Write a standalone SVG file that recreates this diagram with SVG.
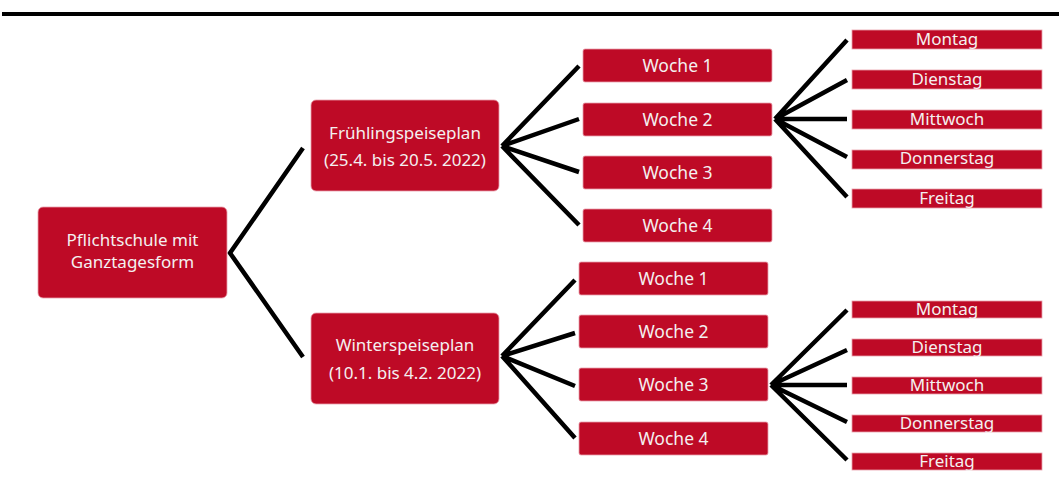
<svg xmlns="http://www.w3.org/2000/svg" width="1059" height="500" viewBox="0 0 1059 500">
<style>
.box{fill:#BE0A26;stroke:#E8A0AC;stroke-width:0.8}
.t{fill:#F4F0F0;font-family:"Noto Sans","Open Sans",sans-serif;font-size:17px;text-anchor:middle}
.w{font-size:17.5px}
.c{stroke:#000;stroke-width:4.5;fill:none;stroke-linecap:butt}
</style>
<rect x="2" y="12" width="1057" height="4" fill="#000"/>
<g id="connectors">
<path class="c" d="M303,148 L230,253 L303,357"/>
<path class="c" d="M579,66 L502,146 M579,119 L502,146 M579,172 L502,146 M579,225 L502,146"/>
<path class="c" d="M575,280 L502,356 M575,333 L502,356 M575,386 L502,356 M575,438 L502,356"/>
<path class="c" d="M847,40 L775,119 M847,80 L775,119 M847,119 L775,119 M847,157 L775,119 M847,197 L775,119"/>
<path class="c" d="M847,310 L771,385 M847,350 L771,385 M847,385 L771,385 M847,422 L771,385 M847,460 L771,385"/>
</g>
<g id="root"><rect class="box" x="38" y="207" width="189" height="91" rx="5"/><text class="t" x="132.5" y="246">Pflichtschule mit</text><text class="t" x="132.5" y="268">Ganztagesform</text></g>
<g id="fruehling"><rect class="box" x="311" y="100" width="188" height="91" rx="5"/><text class="t" x="405" y="139">Frühlingspeiseplan</text><text class="t" x="405" y="166">(25.4. bis 20.5. 2022)</text></g>
<g id="winter"><rect class="box" x="311" y="313" width="188" height="91" rx="5"/><text class="t" x="405" y="351">Winterspeiseplan</text><text class="t" x="405" y="379">(10.1. bis 4.2. 2022)</text></g>
<g id="fw1"><rect class="box" x="583" y="49" width="189" height="33" rx="2"/><text class="t w" x="677.5" y="72">Woche 1</text></g>
<g id="fw2"><rect class="box" x="583" y="103" width="189" height="33" rx="2"/><text class="t w" x="677.5" y="126">Woche 2</text></g>
<g id="fw3"><rect class="box" x="583" y="156" width="189" height="33" rx="2"/><text class="t w" x="677.5" y="179">Woche 3</text></g>
<g id="fw4"><rect class="box" x="583" y="209" width="189" height="33" rx="2"/><text class="t w" x="677.5" y="232">Woche 4</text></g>
<g id="ww1"><rect class="box" x="579" y="262" width="189" height="33" rx="2"/><text class="t w" x="673.5" y="285">Woche 1</text></g>
<g id="ww2"><rect class="box" x="579" y="315" width="189" height="33" rx="2"/><text class="t w" x="673.5" y="338">Woche 2</text></g>
<g id="ww3"><rect class="box" x="579" y="368" width="189" height="33" rx="2"/><text class="t w" x="673.5" y="391">Woche 3</text></g>
<g id="ww4"><rect class="box" x="579" y="422" width="189" height="33" rx="2"/><text class="t w" x="673.5" y="445">Woche 4</text></g>
<g id="f-mo"><rect class="box" x="852" y="30" width="190" height="19"/><text class="t" x="947" y="45">Montag</text></g>
<g id="f-di"><rect class="box" x="852" y="70" width="190" height="19"/><text class="t" x="947" y="85">Dienstag</text></g>
<g id="f-mi"><rect class="box" x="852" y="110" width="190" height="19"/><text class="t" x="947" y="125">Mittwoch</text></g>
<g id="f-do"><rect class="box" x="852" y="150" width="190" height="19"/><text class="t" x="947" y="164">Donnerstag</text></g>
<g id="f-fr"><rect class="box" x="852" y="189" width="190" height="19"/><text class="t" x="947" y="204">Freitag</text></g>
<g id="w-mo"><rect class="box" x="852" y="301" width="190" height="17"/><text class="t" x="947" y="315">Montag</text></g>
<g id="w-di"><rect class="box" x="852" y="339" width="190" height="17"/><text class="t" x="947" y="353">Dienstag</text></g>
<g id="w-mi"><rect class="box" x="852" y="377" width="190" height="17"/><text class="t" x="947" y="391">Mittwoch</text></g>
<g id="w-do"><rect class="box" x="852" y="415" width="190" height="17"/><text class="t" x="947" y="429">Donnerstag</text></g>
<g id="w-fr"><rect class="box" x="852" y="453" width="190" height="17"/><text class="t" x="947" y="467">Freitag</text></g>
</svg>
